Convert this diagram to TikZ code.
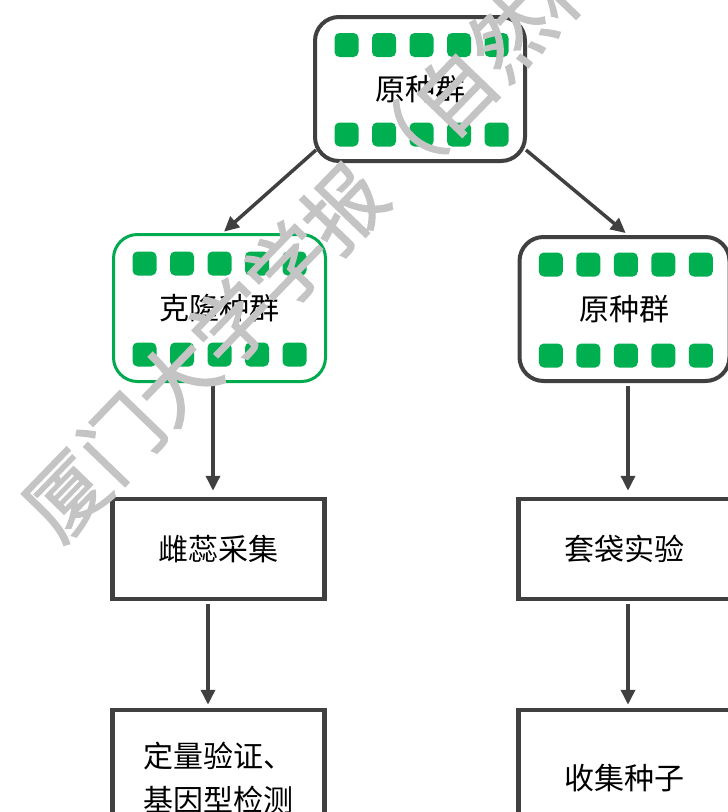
\documentclass[tikz,border=0pt]{standalone}
\usepackage{fontspec}
\setmainfont{Noto Sans CJK SC}
\newfontfamily\wmfont[FakeBold=1.6]{Noto Sans CJK SC}
\usetikzlibrary{arrows.meta}
\definecolor{dk}{HTML}{404040}
\definecolor{gr}{HTML}{00B050}
\definecolor{grb}{HTML}{00AA4F}
\definecolor{wm}{HTML}{C4C4C4}
\begin{document}
\begin{tikzpicture}[x=1pt,y=-1pt,
  popbox/.style={draw=dk,line width=4pt,rounded corners=24pt,minimum width=210pt,
    minimum height=144pt,inner sep=0pt,fill=white,font=\fontsize{30}{36}\selectfont},
  clonebox/.style={popbox,draw=grb,line width=3pt,minimum width=212pt,minimum height=147pt},
  sq/.style={fill=gr,draw=none,rounded corners=5pt,minimum size=24pt,inner sep=0pt},
  stepbox/.style={draw=dk,line width=4.5pt,minimum width=212pt,minimum height=100pt,
    inner sep=0pt,fill=white,align=center,font=\fontsize{30}{44}\selectfont},
  arr/.style={draw=dk,line width=3.5pt,-{Triangle[length=15pt,width=14pt]}}]
\useasboundingbox (0,0) rectangle (728,812);
\clip (0,0) rectangle (728,812);

% population boxes
\node[popbox] (top) at (420,89) {原种群};
\node[clonebox] (clone) at (219.5,308) {克隆种群};
\node[popbox] (orig) at (624.5,309) {原种群};

\foreach \i/\dx in {1/-75,2/-37.5,3/0,4/37.5,5/75}{
  \node[sq] (tu\i) at ([shift={(\dx+1.5,-44)}]top.center) {};
  \node[sq] (td\i) at ([shift={(\dx+1.5,45.5)}]top.center) {};
  \node[sq] (cu\i) at ([shift={(\dx,-44.5)}]clone.center) {};
  \node[sq] (cd\i) at ([shift={(\dx,46.5)}]clone.center) {};
  \node[sq] (ou\i) at ([shift={(\dx+1.3,-44.5)}]orig.center) {};
  \node[sq] (od\i) at ([shift={(\dx+1.3,46.5)}]orig.center) {};
}

% step boxes
\node[stepbox] (pistil) at (218.5,549) {雌蕊采集};
\node[stepbox] (bag) at (624.5,549) {套袋实验};
\node[stepbox,minimum height=136pt] (verify) at (218.5,778) {定量验证、\\基因型检测};
\node[stepbox,minimum height=136pt] (seed) at (624.5,778) {收集种子};

% connectors
\draw[arr,shorten >=2pt] ([shift={(3,-13)}]top.south west) -- ([xshift=3pt]clone.north);
\draw[arr,shorten >=3pt] ([shift={(-1,-13)}]top.south east) -- ([xshift=3.5pt]orig.north);
\draw[arr,shorten <=3pt,shorten >=6pt] ([xshift=-6.5pt]clone.south) -- ([xshift=-5.5pt]pistil.north);
\draw[arr,shorten <=3pt,shorten >=6pt] ([xshift=3.5pt]orig.south) -- ([xshift=3.5pt]bag.north);
\draw[arr,shorten <=3pt,shorten >=3pt] ([xshift=-10.5pt]pistil.south) -- ([xshift=-10.5pt]verify.north);
\draw[arr,shorten <=3pt,shorten >=3pt] ([xshift=3.5pt]bag.south) -- ([xshift=3.5pt]seed.north);

% watermark
\node[rotate=46,text=wm,inner sep=0pt,font=\wmfont\fontsize{80}{80}\selectfont] (wmark) at (399,150)
  {厦门大学学报（自然科学版）};
\end{tikzpicture}
\end{document}
